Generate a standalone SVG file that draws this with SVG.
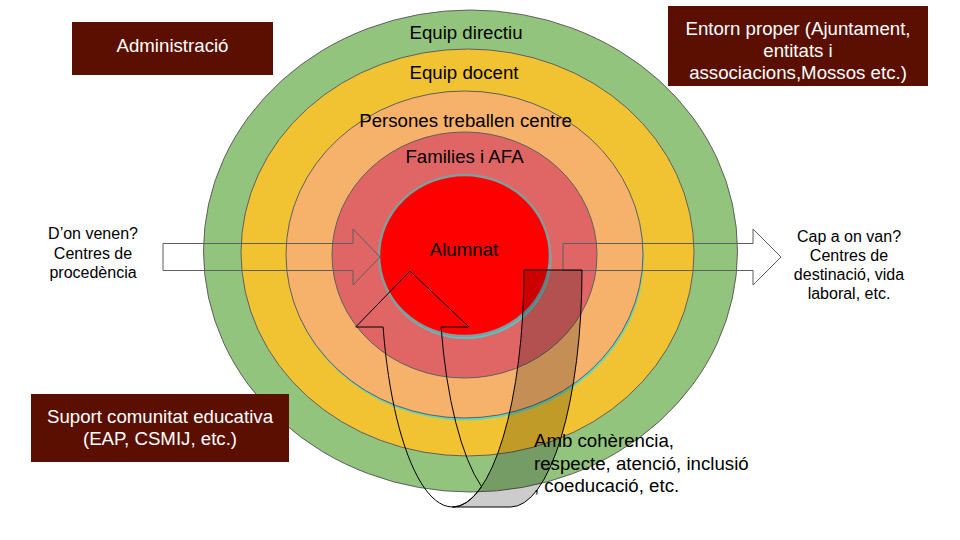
<svg xmlns="http://www.w3.org/2000/svg" width="960" height="540" viewBox="0 0 960 540">
<style>
.ring{stroke:#5f5f5f;stroke-width:1}
.t{font-family:"Liberation Sans",Arial,sans-serif;fill:#000}
.c{text-anchor:middle}
.big{font-size:18.67px}
.small{font-size:16px}
.box{fill:#5b0f00}
.bt{font-family:"Liberation Sans",Arial,sans-serif;font-size:18.67px;fill:#ffffff;text-anchor:middle}
.harrow{fill:none;stroke:#5f5f5f;stroke-width:1}
.uturn{stroke:#000;stroke-width:1;stroke-linejoin:miter}
</style>
<rect width="960" height="540" fill="#ffffff"/>

<g id="ring-equip-directiu">
<ellipse class="ring" cx="470.5" cy="251" rx="267" ry="241" fill="#93c47d"/>
<text class="t c big" x="466" y="38.7">Equip directiu</text>
</g>
<g id="ring-equip-docent">
<ellipse class="ring" cx="467.5" cy="252.5" rx="226.5" ry="203.5" fill="#f1c232"/>
<text class="t c big" x="464" y="78.7">Equip docent</text>
</g>
<g id="ring-persones">
<ellipse cx="465.5" cy="257" rx="178.5" ry="163.5" fill="#66d6b6"/>
<ellipse class="ring" cx="464.5" cy="254.5" rx="178.5" ry="163.5" fill="#f6b26b"/>
<text class="t c big" x="465.5" y="126.7">Persones treballen centre</text>
</g>
<g id="ring-families">
<ellipse class="ring" cx="464.5" cy="255" rx="132.5" ry="123" fill="#e06666"/>
<text class="t c big" x="464.5" y="162.7">Families i AFA</text>
</g>
<g id="alumnat">
<ellipse cx="465.5" cy="258" rx="86" ry="81" fill="#5cc2c2"/>
<ellipse cx="464.5" cy="255.5" rx="85.5" ry="80.5" fill="#ff0000" stroke="#839c9c" stroke-width="2.5"/>
</g>

<g id="connectors">
<path id="arrow-in" class="harrow" d="M163,243.5 H353 V229 L380,257 L353,285 V270.5 H163 Z"/>
<path id="arrow-out" class="harrow" d="M563,243.5 H753 V229 L781,257 L753,285 V270.5 H563 Z"/>
<g id="uturn-arrow">
<path class="uturn" fill="#000" fill-opacity="0.2" d="M524,270 L582,270 A71.5,237 0 0 1 510.5,507 L452.5,507 A71.5,237 0 0 0 524,270 Z"/>
<path class="uturn" fill="none" d="M383.1,327 L355.7,327 L410,271 L469,327 L441.1,327 A71.5,237 0 0 0 481.5,486.6 A71.5,237 0 0 1 383.1,327 Z"/>
</g>
</g>

<g id="alumnat-label">
<text class="t c big" x="464" y="255.7">Alumnat</text>
</g>

<g id="origen">
<text class="t c small" x="93" y="239">D’on venen?</text>
<text class="t c small" x="93" y="259">Centres de</text>
<text class="t c small" x="93" y="278">procedència</text>
</g>
<g id="desti">
<text class="t c small" x="849" y="241.5">Cap a on van?</text>
<text class="t c small" x="849" y="260.5">Centres de</text>
<text class="t c small" x="849" y="279.5">destinació, vida</text>
<text class="t c small" x="849" y="298.5">laboral, etc.</text>
</g>
<g id="valors">
<text class="t big" x="534" y="447">Amb cohèrencia,</text>
<text class="t big" x="534" y="469.5">respecte, atenció, inclusió</text>
<text class="t big" x="534" y="492">, coeducació, etc.</text>
</g>

<g id="administracio">
<rect class="box" x="72" y="22" width="201" height="53"/>
<text class="bt" x="172.5" y="51.7">Administració</text>
</g>
<g id="entorn-proper">
<rect class="box" x="668" y="6" width="260" height="80"/>
<text class="bt" x="798" y="34.7">Entorn proper (Ajuntament,</text>
<text class="bt" x="798" y="57.2">entitats i</text>
<text class="bt" x="798" y="79.4">associacions,Mossos etc.)</text>
</g>
<g id="suport">
<rect class="box" x="31" y="394" width="258" height="68"/>
<text class="bt" x="160" y="423.4">Suport comunitat educativa</text>
<text class="bt" x="160" y="445">(EAP, CSMIJ, etc.)</text>
</g>
</svg>
